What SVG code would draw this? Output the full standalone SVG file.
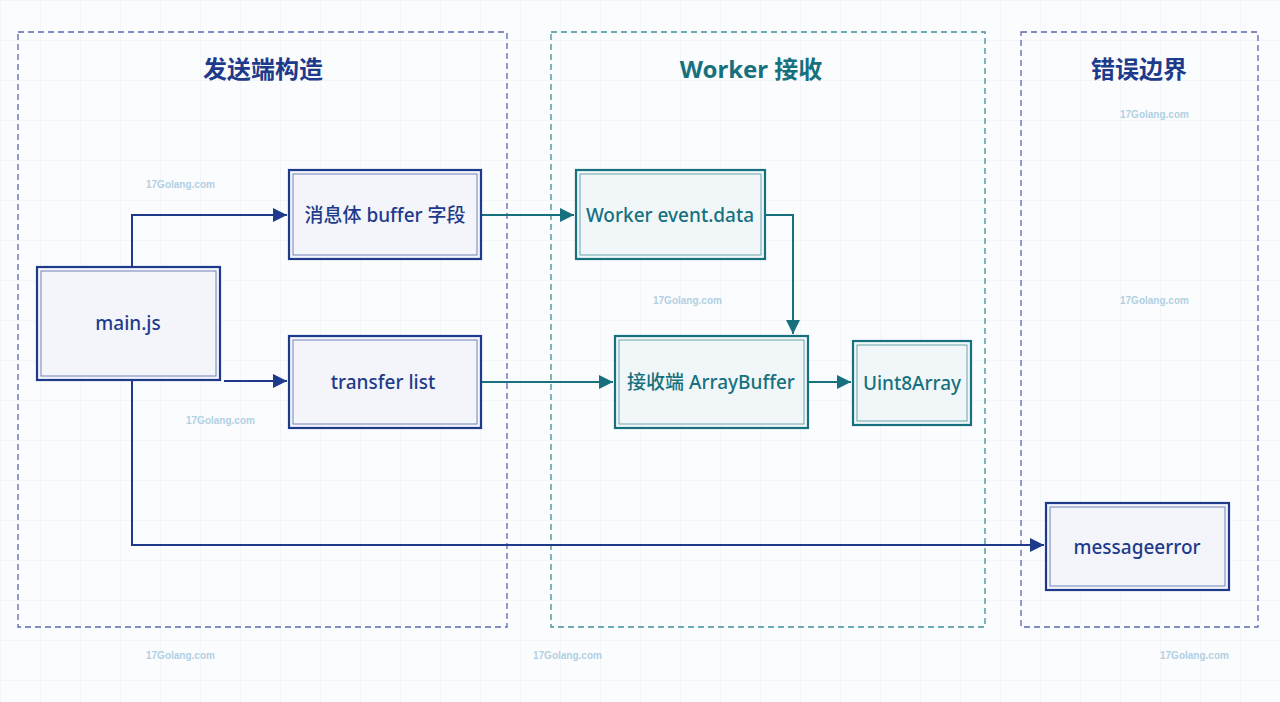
<svg xmlns="http://www.w3.org/2000/svg" width="1280" height="702" viewBox="0 0 1280 702">
<style>
.t{font-family:"Noto Sans","Noto Sans CJK SC",sans-serif;font-weight:500;font-size:19px;text-anchor:middle;dominant-baseline:central}
.h{font-family:"Noto Sans","Noto Sans CJK SC",sans-serif;font-weight:700;font-size:24px;text-anchor:middle;dominant-baseline:central}
.n{fill:#f3f5fb;stroke:#1e3a8a;stroke-width:2.2}
.nt{fill:#f1f7f8;stroke:#16707e;stroke-width:2.2}
.i{fill:none;stroke:#1e3a8a;stroke-width:1;opacity:.6}
.it{fill:none;stroke:#16707e;stroke-width:1;opacity:.6}
.wm{font-family:"Liberation Sans",sans-serif;font-weight:700;font-size:10px;fill:#9fc6dc;opacity:.8}
.e{fill:none;stroke:#1e3a8a;stroke-width:2}
.et{fill:none;stroke:#16707e;stroke-width:2}
</style>
<defs>
<pattern id="g" width="40" height="40" patternUnits="userSpaceOnUse"><path d="M40 0H0V40" fill="none" stroke="#e9edf5" stroke-width="1"/></pattern>
<marker id="a" viewBox="0 0 10 10" refX="10" refY="5" markerWidth="7" markerHeight="7" orient="auto"><path d="M0 0L10 5L0 10z" fill="#1e3a8a"/></marker>
<marker id="at" viewBox="0 0 10 10" refX="10" refY="5" markerWidth="7" markerHeight="7" orient="auto"><path d="M0 0L10 5L0 10z" fill="#16707e"/></marker>
</defs>
<rect width="1280" height="702" fill="#fbfcfe"/>
<rect width="1280" height="702" fill="url(#g)"/>
<g id="zones" fill="none" stroke-width="1.3" stroke-dasharray="6 4">
<rect x="18" y="32" width="489" height="595" stroke="#5a68b0"/>
<rect x="551" y="32" width="434" height="595" stroke="#3f8f9a"/>
<rect x="1021" y="32" width="237" height="595" stroke="#5a68b0"/>
</g>
<text class="h" x="263" y="68" fill="#1e3a8a">发送端构造</text>
<text class="h" x="751" y="68" fill="#16707e">Worker 接收</text>
<text class="h" x="1139" y="68" fill="#1e3a8a">错误边界</text>
<g class="wm">
<text x="146" y="188">17Golang.com</text><text x="1120" y="118">17Golang.com</text>
<text x="653" y="304">17Golang.com</text><text x="1120" y="304">17Golang.com</text>
<text x="186" y="424">17Golang.com</text><text x="146" y="659">17Golang.com</text>
<text x="533" y="659">17Golang.com</text><text x="1160" y="659">17Golang.com</text>
</g>
<g id="connectors">
<path class="e" d="M132 267V215H287" marker-end="url(#a)"/>
<path class="e" d="M224 381H287" marker-end="url(#a)"/>
<path class="e" d="M132 380V545H1044" marker-end="url(#a)"/>
<path class="et" d="M481 215H574" marker-end="url(#at)"/>
<path class="et" d="M481 382H613" marker-end="url(#at)"/>
<path class="et" d="M765 215H793V334" marker-end="url(#at)"/>
<path class="et" d="M808 382H851" marker-end="url(#at)"/>
</g>
<g id="main"><rect class="n" x="37" y="267" width="183" height="113"/><rect class="i" x="41" y="271" width="175" height="105"/><text class="t" x="128" y="323" fill="#1e3a8a">main.js</text></g>
<g id="buf"><rect class="n" x="289" y="170" width="192" height="89"/><rect class="i" x="293" y="174" width="184" height="81"/><text class="t" x="385" y="215" fill="#1e3a8a">消息体 buffer 字段</text></g>
<g id="tl"><rect class="n" x="289" y="336" width="192" height="92"/><rect class="i" x="293" y="340" width="184" height="84"/><text class="t" x="383" y="382" fill="#1e3a8a">transfer list</text></g>
<g id="ev"><rect class="nt" x="576" y="170" width="189" height="89"/><rect class="it" x="580" y="174" width="181" height="81"/><text class="t" x="670" y="215" fill="#16707e">Worker event.data</text></g>
<g id="ab"><rect class="nt" x="615" y="336" width="193" height="92"/><rect class="it" x="619" y="340" width="185" height="84"/><text class="t" x="711" y="382" fill="#16707e">接收端 ArrayBuffer</text></g>
<g id="u8"><rect class="nt" x="853" y="341" width="118" height="84"/><rect class="it" x="857" y="345" width="110" height="76"/><text class="t" x="912" y="383" fill="#16707e">Uint8Array</text></g>
<g id="me"><rect class="n" x="1046" y="503" width="183" height="87"/><rect class="i" x="1050" y="507" width="175" height="79"/><text class="t" x="1137" y="547" fill="#1e3a8a">messageerror</text></g>
</svg>
